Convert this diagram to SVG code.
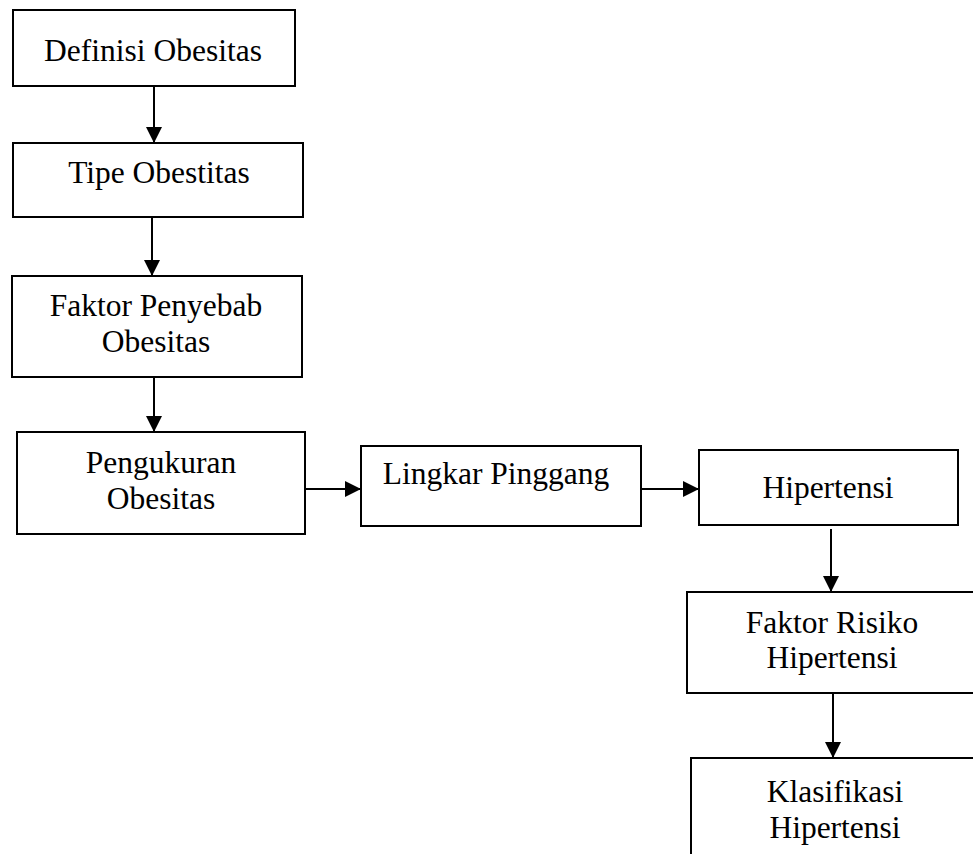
<svg xmlns="http://www.w3.org/2000/svg" width="973" height="854" viewBox="0 0 973 854">
<style>
.box{fill:#fff;stroke:#000;stroke-width:2}
.t{font-family:"Liberation Serif","Times New Roman",serif;font-size:31.5px;fill:#000;text-anchor:middle}
.c{stroke:#000;stroke-width:2;fill:none;marker-end:url(#ah)}
</style>
<defs>
<marker id="ah" viewBox="0 0 16 16" refX="16" refY="8" markerWidth="16" markerHeight="16" markerUnits="userSpaceOnUse" orient="auto">
<path d="M0,0 L16,8 L0,16 Z" fill="#000"/>
</marker>
</defs>
<rect width="973" height="854" fill="#fff"/>
<g id="connectors">
<line class="c" x1="154" y1="86" x2="154" y2="143"/>
<line class="c" x1="152" y1="217" x2="152" y2="276"/>
<line class="c" x1="154" y1="377" x2="154" y2="432"/>
<line class="c" x1="305" y1="489" x2="361" y2="489"/>
<line class="c" x1="641" y1="489" x2="699" y2="489"/>
<line class="c" x1="831" y1="529" x2="831" y2="592"/>
<line class="c" x1="833" y1="693" x2="833" y2="758"/>
</g>
<g id="n1"><rect class="box" x="13" y="10" width="282" height="76"/><text class="t" x="153" y="61">Definisi Obesitas</text></g>
<g id="n2"><rect class="box" x="13" y="143" width="290" height="74"/><text class="t" x="159" y="183">Tipe Obestitas</text></g>
<g id="n3"><rect class="box" x="12" y="276" width="290" height="101"/><text class="t" x="156" y="316">Faktor Penyebab</text><text class="t" x="156" y="352">Obesitas</text></g>
<g id="n4"><rect class="box" x="17" y="432" width="288" height="102"/><text class="t" x="161" y="473">Pengukuran</text><text class="t" x="161" y="509">Obesitas</text></g>
<g id="n5"><rect class="box" x="361" y="446" width="280" height="80"/><text class="t" x="496" y="484">Lingkar Pinggang</text></g>
<g id="n6"><rect class="box" x="699" y="450" width="259" height="75"/><text class="t" x="828" y="498">Hipertensi</text></g>
<g id="n7"><rect class="box" x="687" y="592" width="300" height="101"/><text class="t" x="832" y="633">Faktor Risiko</text><text class="t" x="832" y="668">Hipertensi</text></g>
<g id="n8"><rect class="box" x="691" y="758" width="300" height="110"/><text class="t" x="835" y="802">Klasifikasi</text><text class="t" x="835" y="838">Hipertensi</text></g>
</svg>
